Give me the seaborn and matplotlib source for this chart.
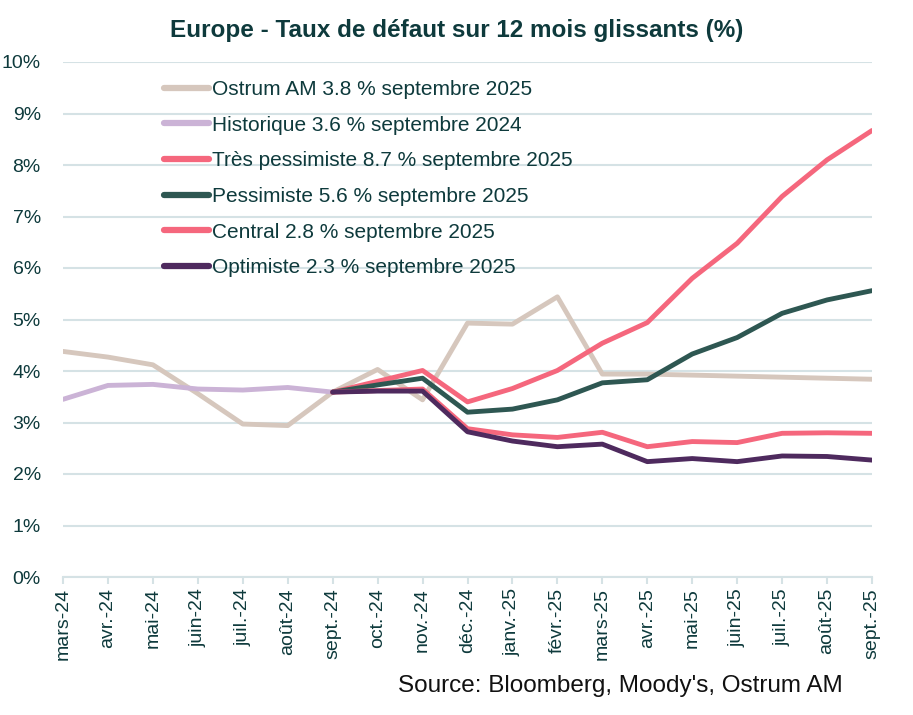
import numpy as np
import pandas as pd
import matplotlib
matplotlib.use("Agg")
import matplotlib.pyplot as plt
import seaborn as sns
from matplotlib.lines import Line2D

mois = ["mars-24", "avr.-24", "mai-24", "juin-24", "juil.-24", "août-24", "sept.-24",
        "oct.-24", "nov.-24", "déc.-24", "janv.-25", "févr.-25", "mars-25", "avr.-25",
        "mai-25", "juin-25", "juil.-25", "août-25", "sept.-25"]

nan = np.nan
ostrum = [4.38, 4.27, 4.12, 3.56, 2.97, 2.94, 3.59, 4.03, 3.44, 4.93, 4.91, 5.44,
          3.94, 3.94, 3.92, 3.90, 3.88, 3.86, 3.84]
historique = [3.45, 3.72, 3.74, 3.65, 3.63, 3.68, 3.59, nan, nan, nan, nan, nan,
              nan, nan, nan, nan, nan, nan, nan]
tres_pessimiste = [nan, nan, nan, nan, nan, nan, 3.59, 3.80, 4.01, 3.40, 3.66, 4.01,
                   4.54, 4.94, 5.80, 6.48, 7.39, 8.10, 8.67]
pessimiste = [nan, nan, nan, nan, nan, nan, 3.59, 3.73, 3.86, 3.20, 3.26, 3.44,
              3.77, 3.83, 4.33, 4.65, 5.12, 5.38, 5.56]
central = [nan, nan, nan, nan, nan, nan, 3.59, 3.62, 3.65, 2.88, 2.76, 2.71,
           2.81, 2.53, 2.63, 2.61, 2.79, 2.80, 2.79]
optimiste = [nan, nan, nan, nan, nan, nan, 3.59, 3.61, 3.61, 2.82, 2.64, 2.53,
             2.58, 2.24, 2.30, 2.24, 2.35, 2.34, 2.27]

labels = ["Ostrum AM 3.8 % septembre 2025",
          "Historique 3.6 % septembre 2024",
          "Très pessimiste 8.7 % septembre 2025",
          "Pessimiste 5.6 % septembre 2025",
          "Central 2.8 % septembre 2025",
          "Optimiste 2.3 % septembre 2025"]
series = [ostrum, historique, tres_pessimiste, pessimiste, central, optimiste]
colors = ["#D6C7BD", "#CBB3D6", "#F5677D", "#2E5752", "#F5677D", "#4E2A5E"]
yticks = [0, 1, 2, 3, 4, 5, 6, 7, 8, 9, 10]
ytick_labels = [f"{v}%" for v in yticks]

rows = []
for lab, vals in zip(labels, series):
    for i, v in enumerate(vals):
        if not np.isnan(v):
            rows.append({"pos": i, "taux": v, "serie": lab})
df = pd.DataFrame(rows)

sns.set_theme(style="white")
plt.rcParams['font.family'] = ['Liberation Sans', 'DejaVu Sans']
text_c = "#0E3A3C"
grid_c = "#D5E2E5"

fig = plt.figure(figsize=(9.13, 7.15), dpi=100)
ax = fig.add_axes([63/913, 1-577/715, (872-63)/913, (577-62)/715])

sns.lineplot(data=df, x="pos", y="taux", hue="serie", hue_order=labels,
             palette=dict(zip(labels, colors)), linewidth=3.5, ax=ax, legend=False,
             sort=False)

ax.set_xlim(0, len(mois)-1)
ax.set_ylim(0, 10)
ax.set_yticks(yticks)
ax.set_yticklabels(ytick_labels, fontsize=14, color=text_c)
ax.set_xticks(range(len(mois)))
ax.set_xticklabels(mois, rotation=90, fontsize=14, color=text_c)
ax.set_xlabel("")
ax.set_ylabel("")
ax.yaxis.grid(True, color=grid_c, linewidth=1.5)
ax.set_axisbelow(True)
for s in ["left", "right", "top"]:
    ax.spines[s].set_visible(False)
ax.spines["bottom"].set_color(grid_c)
ax.spines["bottom"].set_linewidth(1.5)
ax.tick_params(axis="x", which="major", bottom=True, length=5, width=1.5,
               color=grid_c, pad=3)
ax.tick_params(axis="y", left=False, pad=10)

hdl = [Line2D([0], [0], color=c, linewidth=4.5, solid_capstyle="round") for c in colors]
leg = ax.legend(hdl, labels, loc="upper left", bbox_to_anchor=(0.115, 0.981),
                frameon=False, fontsize=15, handlelength=2.15, handletextpad=0.12,
                labelspacing=0.8, borderaxespad=0)
for t in leg.get_texts():
    t.set_color(text_c)

fig.text(0.5, 1-30/715, "Europe - Taux de défaut sur 12 mois glissants (%)",
         ha="center", va="center", fontsize=17.5, fontweight="bold", color=text_c)
fig.text(843/913, 1-686/715, "Source: Bloomberg, Moody's, Ostrum AM",
         ha="right", va="center", fontsize=17.5, color="#111111")

fig.savefig("out.png", dpi=100)
